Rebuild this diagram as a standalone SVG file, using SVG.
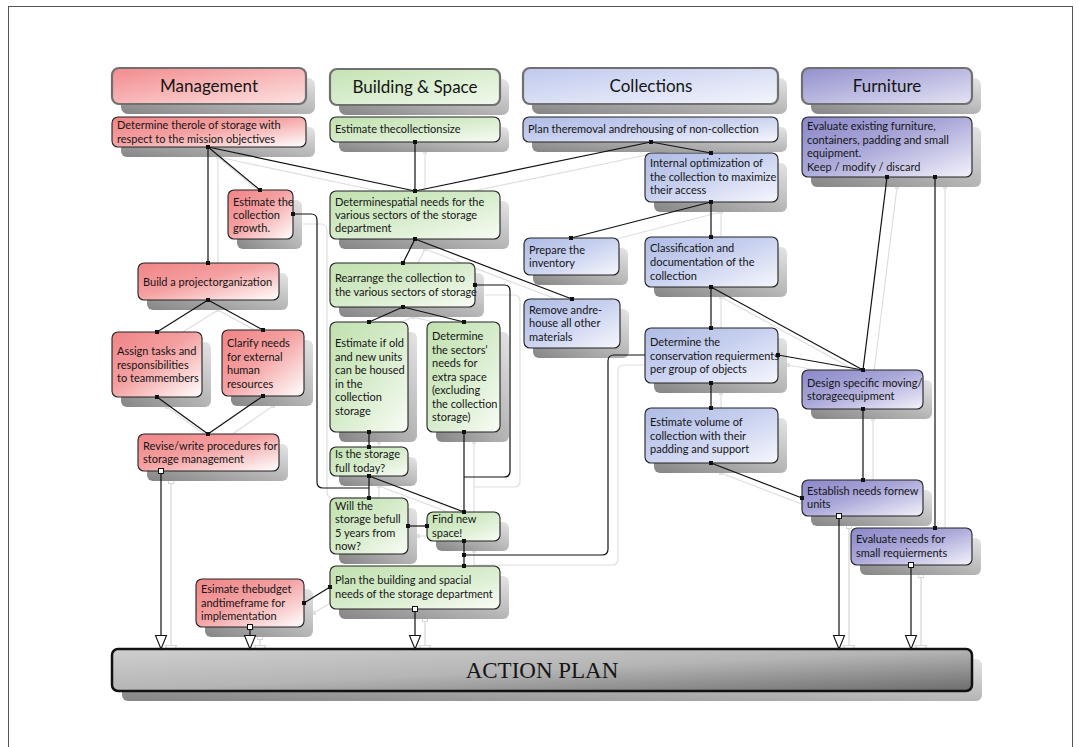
<svg xmlns="http://www.w3.org/2000/svg" width="1079" height="747" viewBox="0 0 1079 747">
<defs>
<style>
.t{font-family:Lato,"Liberation Sans",sans-serif;font-size:11px;fill:#151515}
.h{font-family:Lato,"Liberation Sans",sans-serif;font-size:17px;fill:#151515;text-anchor:middle}
.n{stroke:#222;stroke-width:1.1}
.hd{stroke:#707070;stroke-width:2.2}
.sh{fill:url(#gSh)}
.red{fill:url(#gRed)}.grn{fill:url(#gGrn)}.blu{fill:url(#gBlu)}.pur{fill:url(#gPur)}
.hred{fill:url(#hRed)}.hgrn{fill:url(#hGrn)}.hblu{fill:url(#hBlu)}.hpur{fill:url(#hPur)}
.c{fill:none;stroke:#111;stroke-width:1.2;marker-start:url(#dot);marker-end:url(#dot)}
.c1{fill:none;stroke:#111;stroke-width:1.2;marker-start:url(#dot)}
.ca{fill:none;stroke:#111;stroke-width:1.2;marker-start:url(#sq);marker-end:url(#arr)}
.gc{fill:none;stroke:#dedede;stroke-width:1.2;marker-start:url(#dotg);marker-end:url(#dotg)}
.gc1{fill:none;stroke:#dedede;stroke-width:1.2}
.ga{fill:none;stroke:#d6d6d6;stroke-width:1.2;marker-start:url(#sqg);marker-end:url(#arrg)}
</style>
<linearGradient id="gSh" x1="0" y1="1" x2="1" y2="0"><stop offset="0" stop-color="#858585"/><stop offset="1" stop-color="#e4e4e4"/></linearGradient>
<linearGradient id="gRed" x1="0" y1="0" x2="1" y2="1"><stop offset="0" stop-color="#f08486"/><stop offset="0.45" stop-color="#f4a0a1"/><stop offset="1" stop-color="#ffffff"/></linearGradient>
<linearGradient id="gGrn" x1="0" y1="0" x2="1" y2="1"><stop offset="0" stop-color="#c1e1af"/><stop offset="0.45" stop-color="#d3eac7"/><stop offset="1" stop-color="#f8fcf5"/></linearGradient>
<linearGradient id="gBlu" x1="0" y1="0" x2="1" y2="1"><stop offset="0" stop-color="#afbce5"/><stop offset="0.45" stop-color="#c6cfee"/><stop offset="1" stop-color="#f6f7fd"/></linearGradient>
<linearGradient id="gPur" x1="0" y1="0" x2="1" y2="1"><stop offset="0" stop-color="#8a88c9"/><stop offset="0.45" stop-color="#a9a7d8"/><stop offset="1" stop-color="#f3f2fb"/></linearGradient>
<linearGradient id="hRed" x1="0" y1="0" x2="1" y2="1"><stop offset="0" stop-color="#f28b8d"/><stop offset="1" stop-color="#fde2e2"/></linearGradient>
<linearGradient id="hGrn" x1="0" y1="0" x2="1" y2="1"><stop offset="0" stop-color="#c3e3b3"/><stop offset="1" stop-color="#f1f9ed"/></linearGradient>
<linearGradient id="hBlu" x1="0" y1="0" x2="1" y2="1"><stop offset="0" stop-color="#c0c9ed"/><stop offset="1" stop-color="#f3f5fc"/></linearGradient>
<linearGradient id="hPur" x1="0" y1="0" x2="1" y2="1"><stop offset="0" stop-color="#9290cd"/><stop offset="1" stop-color="#e4e3f4"/></linearGradient>
<linearGradient id="gAct" x1="0" y1="0" x2="1" y2="1"><stop offset="0" stop-color="#cfcfcf"/><stop offset="0.5" stop-color="#b5b5b5"/><stop offset="1" stop-color="#6c6c6c"/></linearGradient>
<marker id="dot" markerUnits="userSpaceOnUse" markerWidth="4" markerHeight="4" refX="2" refY="2"><rect width="4" height="4" fill="#111"/></marker>
<marker id="dotg" markerUnits="userSpaceOnUse" markerWidth="4" markerHeight="4" refX="2" refY="2"><rect width="4" height="4" fill="#e2e2e2"/></marker>
<marker id="sq" markerUnits="userSpaceOnUse" markerWidth="8" markerHeight="8" refX="4" refY="4"><rect x="1.5" y="1.5" width="5" height="5" fill="#fff" stroke="#111" stroke-width="1"/></marker>
<marker id="sqg" markerUnits="userSpaceOnUse" markerWidth="8" markerHeight="8" refX="4" refY="4"><rect x="1.5" y="1.5" width="5" height="5" fill="#fff" stroke="#d6d6d6" stroke-width="1"/></marker>
<marker id="arr" markerUnits="userSpaceOnUse" markerWidth="16" markerHeight="14" refX="14.5" refY="6.5" orient="auto"><path d="M1,1 L14.5,6.5 L1,12 Z" fill="#fff" stroke="#111" stroke-width="1.1"/></marker>
<marker id="arrg" markerUnits="userSpaceOnUse" markerWidth="16" markerHeight="14" refX="14.5" refY="6.5" orient="auto"><path d="M1,1 L14.5,6.5 L1,12 Z" fill="#fff" stroke="#d6d6d6" stroke-width="1.1"/></marker>
</defs>
<rect x="0" y="0" width="1079" height="747" fill="#fff"/>
<rect x="8.5" y="6.5" width="1064" height="760" fill="none" stroke="#555" stroke-width="1"/>

<g id="connector-shadows" transform="translate(10,10)">
<path class="gc" d="M208,147 V263"/>
<path class="gc" d="M208,147 L260,190"/>
<path class="gc" d="M208,147 L415,191"/>
<path class="gc" d="M415,142 V191"/>
<path class="gc" d="M651,142 L415,191"/>
<path class="gc" d="M651,142 L711,153"/>
<path class="gc" d="M711,202 V237"/>
<path class="gc" d="M711,202 L571,238"/>
<path class="gc" d="M711,287 V328"/>
<path class="gc" d="M711,287 L863,370"/>
<path class="gc" d="M778,355 L863,370"/>
<path class="gc" d="M711,383 V408"/>
<path class="gc" d="M711,463 L802,498"/>
<path class="gc" d="M887,177 L863,370"/>
<path class="gc" d="M935,177 V528"/>
<path class="gc" d="M863,409 V480"/>
<path class="gc" d="M208,300 L157,332"/>
<path class="gc" d="M208,300 L263,330"/>
<path class="gc" d="M157,397 L208,434"/>
<path class="gc" d="M263,396 L208,434"/>
<path class="gc1" d="M293,214 H311 Q317,214 317,220 V482 Q317,488 323,488 H369"/>
<path class="gc" d="M415,239 L403,263"/>
<path class="gc" d="M415,239 L572,299"/>
<path class="gc" d="M403,307 L369,322"/>
<path class="gc" d="M403,307 L464,322"/>
<path class="gc1" d="M475,285 H504 Q510,285 510,291 V471 Q510,477 504,477 H464"/>
<path class="gc" d="M464,432 V512"/>
<path class="gc" d="M369,432 V447"/>
<path class="gc" d="M369,476 V498"/>
<path class="gc" d="M369,476 L464,512"/>
<path class="gc" d="M408,526 H427"/>
<path class="gc" d="M464,541 V566"/>
<path class="gc1" d="M464,555 H602 Q608,555 608,549 V361 Q608,355 614,355 H645"/>
<path class="gc" d="M304,603 L330,587"/>
<path class="ga" d="M161,471 V649"/>
<path class="ga" d="M250,627 V649"/>
<path class="ga" d="M415,609 V649"/>
<path class="ga" d="M839,516 V649"/>
<path class="ga" d="M911,565 V649"/>
</g>

<g id="hdr-management"><rect class="sh" x="121" y="78" width="194" height="36" rx="7"/><rect class="hd hred" x="112" y="68" width="194" height="36" rx="7"/><text class="h" x="209" y="92">Management</text></g>
<g id="hdr-building"><rect class="sh" x="339" y="79" width="170" height="36" rx="7"/><rect class="hd hgrn" x="330" y="69" width="170" height="36" rx="7"/><text class="h" x="415" y="93">Building &amp; Space</text></g>
<g id="hdr-collections"><rect class="sh" x="532" y="78" width="255" height="36" rx="7"/><rect class="hd hblu" x="523" y="68" width="255" height="36" rx="7"/><text class="h" x="651" y="92">Collections</text></g>
<g id="hdr-furniture"><rect class="sh" x="811" y="78" width="170" height="36" rx="7"/><rect class="hd hpur" x="802" y="68" width="170" height="36" rx="7"/><text class="h" x="887" y="92">Furniture</text></g>

<g id="m1"><rect class="sh" x="121" y="127" width="194" height="30" rx="6"/><rect class="n red" x="112" y="117" width="194" height="30" rx="6"/><text class="t"><tspan x="117" y="129">Determine therole of storage with</tspan><tspan x="117" y="143">respect to the mission objectives</tspan></text></g>
<g id="m2"><rect class="sh" x="237" y="200" width="65" height="49" rx="6"/><rect class="n red" x="228" y="190" width="65" height="49" rx="6"/><text class="t"><tspan x="233" y="206">Estimate the</tspan><tspan x="233" y="219">collection</tspan><tspan x="233" y="232">growth.</tspan></text></g>
<g id="m3"><rect class="sh" x="147" y="273" width="141" height="37" rx="6"/><rect class="n red" x="138" y="263" width="141" height="37" rx="6"/><text class="t"><tspan x="143" y="286">Build a  projectorganization</tspan></text></g>
<g id="m4"><rect class="sh" x="121" y="342" width="90" height="65" rx="6"/><rect class="n red" x="112" y="332" width="90" height="65" rx="6"/><text class="t"><tspan x="117" y="355">Assign tasks and</tspan><tspan x="117" y="369">responsibilities</tspan><tspan x="117" y="382">to teammembers</tspan></text></g>
<g id="m5"><rect class="sh" x="231" y="340" width="82" height="66" rx="6"/><rect class="n red" x="222" y="330" width="82" height="66" rx="6"/><text class="t"><tspan x="227" y="347">Clarify needs</tspan><tspan x="227" y="361">for external</tspan><tspan x="227" y="374">human</tspan><tspan x="227" y="388">resources</tspan></text></g>
<g id="m6"><rect class="sh" x="147" y="444" width="141" height="37" rx="6"/><rect class="n red" x="138" y="434" width="141" height="37" rx="6"/><text class="t"><tspan x="143" y="450">Revise/write procedures for</tspan><tspan x="143" y="463">storage management</tspan></text></g>
<g id="m7"><rect class="sh" x="205" y="589" width="108" height="48" rx="6"/><rect class="n red" x="196" y="579" width="108" height="48" rx="6"/><text class="t"><tspan x="201" y="593">Esimate thebudget</tspan><tspan x="201" y="607">andtimeframe  for</tspan><tspan x="201" y="620">implementation</tspan></text></g>

<g id="b1"><rect class="sh" x="339" y="127" width="170" height="25" rx="6"/><rect class="n grn" x="330" y="117" width="170" height="25" rx="6"/><text class="t"><tspan x="335" y="133">Estimate thecollectionsize</tspan></text></g>
<g id="b2"><rect class="sh" x="339" y="201" width="170" height="48" rx="6"/><rect class="n grn" x="330" y="191" width="170" height="48" rx="6"/><text class="t"><tspan x="335" y="206">Determinespatial needs for the</tspan><tspan x="335" y="219">various sectors of the storage</tspan><tspan x="335" y="232">department</tspan></text></g>
<g id="b3"><rect class="sh" x="339" y="273" width="145" height="44" rx="6"/><rect class="n grn" x="330" y="263" width="145" height="44" rx="6"/><text class="t"><tspan x="335" y="282">Rearrange  the collection to</tspan><tspan x="335" y="296">the various sectors of storage</tspan></text></g>
<g id="b4"><rect class="sh" x="339" y="332" width="78" height="110" rx="6"/><rect class="n grn" x="330" y="322" width="78" height="110" rx="6"/><text class="t"><tspan x="335" y="347">Estimate if old</tspan><tspan x="335" y="360.5">and new units</tspan><tspan x="335" y="374">can be housed</tspan><tspan x="335" y="387.5">in the</tspan><tspan x="335" y="401">collection</tspan><tspan x="335" y="414.5">storage</tspan></text></g>
<g id="b5"><rect class="sh" x="436" y="332" width="73" height="110" rx="6"/><rect class="n grn" x="427" y="322" width="73" height="110" rx="6"/><text class="t"><tspan x="432" y="340">Determine</tspan><tspan x="432" y="354">the sectors’</tspan><tspan x="432" y="367">needs for</tspan><tspan x="432" y="381">extra space</tspan><tspan x="432" y="394">(excluding</tspan><tspan x="432" y="408">the collection</tspan><tspan x="432" y="421">storage)</tspan></text></g>
<g id="b6"><rect class="sh" x="339" y="457" width="78" height="29" rx="6"/><rect class="n grn" x="330" y="447" width="78" height="29" rx="6"/><text class="t"><tspan x="335" y="458">Is the storage</tspan><tspan x="335" y="472">full  today?</tspan></text></g>
<g id="b7"><rect class="sh" x="339" y="508" width="78" height="56" rx="6"/><rect class="n grn" x="330" y="498" width="78" height="56" rx="6"/><text class="t"><tspan x="335" y="510">Will the</tspan><tspan x="335" y="523">storage befull</tspan><tspan x="335" y="537">5 years from</tspan><tspan x="335" y="550">now?</tspan></text></g>
<g id="b8"><rect class="sh" x="436" y="522" width="73" height="29" rx="6"/><rect class="n grn" x="427" y="512" width="73" height="29" rx="6"/><text class="t"><tspan x="432" y="523">Find new</tspan><tspan x="432" y="537">space!</tspan></text></g>
<g id="b9"><rect class="sh" x="339" y="576" width="170" height="43" rx="6"/><rect class="n grn" x="330" y="566" width="170" height="43" rx="6"/><text class="t"><tspan x="335" y="584">Plan the building and spacial</tspan><tspan x="335" y="598">needs of the storage department</tspan></text></g>

<g id="c1n"><rect class="sh" x="532" y="127" width="255" height="25" rx="6"/><rect class="n blu" x="523" y="117" width="255" height="25" rx="6"/><text class="t"><tspan x="528" y="133">Plan theremoval  andrehousing of non-collection</tspan></text></g>
<g id="c2n"><rect class="sh" x="654" y="163" width="133" height="49" rx="6"/><rect class="n blu" x="645" y="153" width="133" height="49" rx="6"/><text class="t"><tspan x="650" y="167">Internal optimization  of</tspan><tspan x="650" y="181">the collection to maximize</tspan><tspan x="650" y="194">their access</tspan></text></g>
<g id="c3n"><rect class="sh" x="533" y="248" width="95" height="37" rx="6"/><rect class="n blu" x="524" y="238" width="95" height="37" rx="6"/><text class="t"><tspan x="529" y="254">Prepare the</tspan><tspan x="529" y="267">inventory</tspan></text></g>
<g id="c4n"><rect class="sh" x="654" y="247" width="133" height="50" rx="6"/><rect class="n blu" x="645" y="237" width="133" height="50" rx="6"/><text class="t"><tspan x="650" y="252">Classification and</tspan><tspan x="650" y="266">documentation of the</tspan><tspan x="650" y="280">collection</tspan></text></g>
<g id="c5n"><rect class="sh" x="533" y="309" width="96" height="49" rx="6"/><rect class="n blu" x="524" y="299" width="96" height="49" rx="6"/><text class="t"><tspan x="529" y="314">Remove andre-</tspan><tspan x="529" y="327">house all other</tspan><tspan x="529" y="341">materials</tspan></text></g>
<g id="c6n"><rect class="sh" x="654" y="338" width="133" height="55" rx="6"/><rect class="n blu" x="645" y="328" width="133" height="55" rx="6"/><text class="t"><tspan x="650" y="346">Determine the</tspan><tspan x="650" y="360">conservation requierments</tspan><tspan x="650" y="373">per group of objects</tspan></text></g>
<g id="c7n"><rect class="sh" x="654" y="418" width="133" height="55" rx="6"/><rect class="n blu" x="645" y="408" width="133" height="55" rx="6"/><text class="t"><tspan x="650" y="426">Estimate volume of</tspan><tspan x="650" y="440">collection with their</tspan><tspan x="650" y="453">padding and support</tspan></text></g>

<g id="f1"><rect class="sh" x="811" y="127" width="170" height="60" rx="6"/><rect class="n pur" x="802" y="117" width="170" height="60" rx="6"/><text class="t"><tspan x="807" y="130">Evaluate  existing furniture,</tspan><tspan x="807" y="144">containers, padding and small</tspan><tspan x="807" y="157">equipment.</tspan><tspan x="807" y="171">Keep / modify / discard</tspan></text></g>
<g id="f2"><rect class="sh" x="811" y="380" width="121" height="39" rx="6"/><rect class="n pur" x="802" y="370" width="121" height="39" rx="6"/><text class="t"><tspan x="807" y="387">Design specific moving/</tspan><tspan x="807" y="400">storageequipment</tspan></text></g>
<g id="f3"><rect class="sh" x="811" y="490" width="121" height="36" rx="6"/><rect class="n pur" x="802" y="480" width="121" height="36" rx="6"/><text class="t"><tspan x="807" y="495">Establish needs fornew</tspan><tspan x="807" y="508">units</tspan></text></g>
<g id="f4"><rect class="sh" x="860" y="538" width="121" height="37" rx="6"/><rect class="n pur" x="851" y="528" width="121" height="37" rx="6"/><text class="t"><tspan x="856" y="543">Evaluate needs for</tspan><tspan x="856" y="557">small requierments</tspan></text></g>

<g id="action-plan"><rect x="122" y="659" width="860" height="42" rx="6" fill="url(#gSh)"/><rect x="112" y="649" width="860" height="42" rx="6" fill="url(#gAct)" stroke="#111" stroke-width="2.5"/><text x="542" y="678" font-family="'Liberation Serif',serif" font-size="23" fill="#151515" text-anchor="middle">ACTION PLAN</text></g>

<g id="connectors">
<path class="c" d="M208,147 V263"/>
<path class="c" d="M208,147 L260,190"/>
<path class="c" d="M208,147 L415,191"/>
<path class="c" d="M415,142 V191"/>
<path class="c" d="M651,142 L415,191"/>
<path class="c" d="M651,142 L711,153"/>
<path class="c" d="M711,202 V237"/>
<path class="c" d="M711,202 L571,238"/>
<path class="c" d="M711,287 V328"/>
<path class="c" d="M711,287 L863,370"/>
<path class="c" d="M778,355 L863,370"/>
<path class="c" d="M711,383 V408"/>
<path class="c" d="M711,463 L802,498"/>
<path class="c" d="M887,177 L863,370"/>
<path class="c" d="M935,177 V528"/>
<path class="c" d="M863,409 V480"/>
<path class="c" d="M208,300 L157,332"/>
<path class="c" d="M208,300 L263,330"/>
<path class="c" d="M157,397 L208,434"/>
<path class="c" d="M263,396 L208,434"/>
<path class="c1" d="M293,214 H311 Q317,214 317,220 V482 Q317,488 323,488 H369"/>
<path class="c" d="M415,239 L403,263"/>
<path class="c" d="M415,239 L572,299"/>
<path class="c" d="M403,307 L369,322"/>
<path class="c" d="M403,307 L464,322"/>
<path class="c1" d="M475,285 H504 Q510,285 510,291 V471 Q510,477 504,477 H464"/>
<path class="c" d="M464,432 V512"/>
<path class="c" d="M369,432 V447"/>
<path class="c" d="M369,476 V498"/>
<path class="c" d="M369,476 L464,512"/>
<path class="c" d="M408,526 H427"/>
<path class="c" d="M464,541 V566"/>
<path class="c1" d="M464,555 H602 Q608,555 608,549 V361 Q608,355 614,355 H645"/>
<path class="c" d="M304,603 L330,587"/>
<path class="ca" d="M161,471 V649"/>
<path class="ca" d="M250,627 V649"/>
<path class="ca" d="M415,609 V649"/>
<path class="ca" d="M839,516 V649"/>
<path class="ca" d="M911,565 V649"/>
</g>
</svg>
